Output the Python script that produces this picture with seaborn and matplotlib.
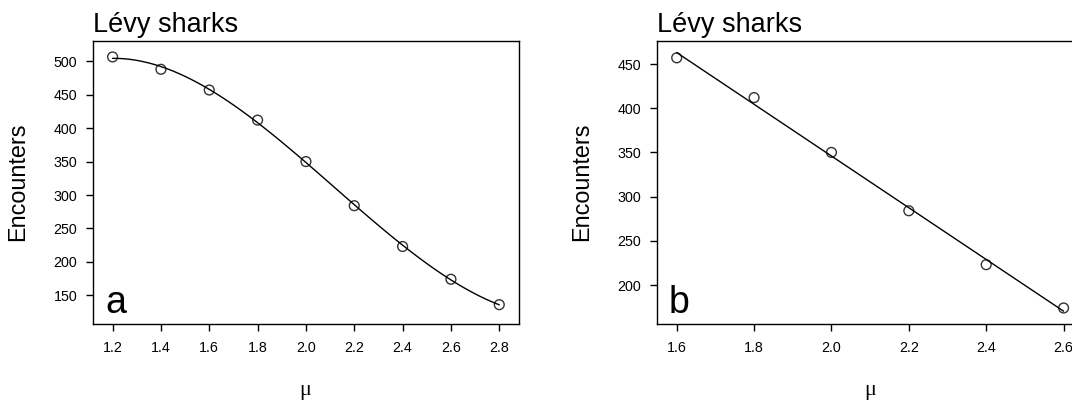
import numpy as np
import pandas as pd
import matplotlib
matplotlib.use('Agg')
import matplotlib.pyplot as plt
import seaborn as sns

# encounters vs mu
mu_a  = [1.2, 1.4, 1.6, 1.8, 2.0, 2.2, 2.4, 2.6, 2.8]
enc_a = [506.5, 488, 457, 412, 350, 284, 223, 174, 136]
mu_b  = [1.6, 1.8, 2.0, 2.2, 2.4, 2.6]
enc_b = [457, 412, 350, 284, 223, 174]
xticks_a = [1.2, 1.4, 1.6, 1.8, 2.0, 2.2, 2.4, 2.6, 2.8]
yticks_a = [150, 200, 250, 300, 350, 400, 450, 500]
xticks_b = [1.6, 1.8, 2.0, 2.2, 2.4, 2.6]
yticks_b = [200, 250, 300, 350, 400, 450]

sns.set_style('ticks')
plt.rcParams['font.family'] = ['Liberation Sans', 'DejaVu Sans']
plt.rcParams['text.color'] = 'black'
plt.rcParams['axes.labelcolor'] = 'black'

fig = plt.figure(figsize=(10.72, 4.08), dpi=100)
ax_a = fig.add_axes([0.0870, 0.2059, 0.3970, 0.6944])
ax_b = fig.add_axes([0.6132, 0.2059, 0.3970, 0.6944])  # runs past the right edge, as in the original

panels = [(ax_a, mu_a, enc_a, 3, xticks_a, yticks_a, (1.12, 2.881), (107.1, 530.8), 'a', 0.497),
          (ax_b, mu_b, enc_b, 1, xticks_b, yticks_b, (1.55, 2.65), (155.9, 476.4), 'b', 0.50)]

for ax, x, y, order, xt, yt, xl, yl, letter, mux in panels:
    df = pd.DataFrame({'mu': x, 'enc': y})
    sns.regplot(data=df, x='mu', y='enc', order=order, ci=None, ax=ax,
                scatter_kws=dict(s=50, facecolors='none', edgecolors='black', linewidths=1.0),
                line_kws=dict(color='black', lw=1.0))
    ax.set_xlim(*xl); ax.set_ylim(*yl)
    ax.set_xticks(xt); ax.set_xticklabels([f'{v:.1f}' for v in xt])
    ax.set_yticks(yt); ax.set_yticklabels([str(v) for v in yt])
    for s in ax.spines.values():
        s.set_visible(True); s.set_color('black'); s.set_linewidth(1.0)
    ax.tick_params(axis='both', length=5, width=1.0, color='black', labelsize=10.3, labelcolor='black')
    ax.tick_params(axis='x', pad=7.5)
    ax.tick_params(axis='y', pad=6.5)
    ax.set_title('Lévy sharks', loc='left', fontsize=19.5, pad=6, color='black')
    ax.set_ylabel('Encounters', fontsize=16.8, color='black')
    ax.yaxis.set_label_coords(-0.150, 0.502)
    ax.set_xlabel('μ', fontsize=16, color='black', family=['Liberation Serif', 'DejaVu Serif'])
    ax.xaxis.set_label_coords(mux, -0.202)
    ax.text(0.0275, 0.039, letter, transform=ax.transAxes, fontsize=27, color='black',
            ha='left', va='baseline')

plt.savefig('out.png', dpi=100)
